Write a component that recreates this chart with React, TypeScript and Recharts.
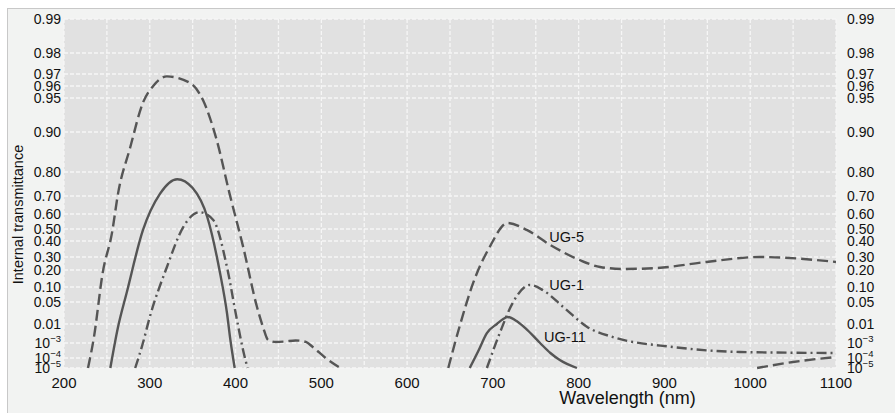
import React from 'react';
import {
  LineChart,
  Line,
  XAxis,
  YAxis,
  CartesianGrid,
  ReferenceDot,
  Label
} from 'recharts';

// Non-linear transmittance axis: tick values and their place on the axis (0 = bottom, 349 = top)
const TICK_VALUES = [0.99, 0.98, 0.97, 0.96, 0.95, 0.9, 0.8, 0.7, 0.6, 0.5, 0.4, 0.3, 0.2, 0.1, 0.05, 0.01, 1e-3, 1e-4, 1e-5];
const TICK_SCALE = [349, 315, 294, 282, 270, 236, 196, 172, 154, 139, 127, 111, 98, 81, 66, 44, 25, 10, 0];
const TICK_LABELS = ['0.99', '0.98', '0.97', '0.96', '0.95', '0.90', '0.80', '0.70', '0.60', '0.50', '0.40', '0.30', '0.20', '0.10', '0.05', '0.01', '10^−3', '10^−4', '10^−5'];

const X_TICKS = [200, 250, 300, 350, 400, 450, 500, 550, 600, 650, 700, 750, 800, 850, 900, 950, 1000, 1050, 1100];

// UG-5 (dashed)
const UG5_UV_NM = [228, 235, 245, 256, 263, 277, 292, 304, 320, 347, 362, 378, 393, 409, 425, 432, 438, 447, 457, 470, 482, 490, 505, 522];
const UG5_UV_T = [1e-5, 0.004, 0.18, 0.47, 0.71, 0.86, 0.943, 0.96, 0.968, 0.9625, 0.947, 0.88, 0.71, 0.36, 0.041, 0.0086, 0.0024, 0.0015, 0.0017, 0.0022, 0.0015, 0.00076, 1e-4, 1e-5];
const UG5_IR_NM = [648, 661, 677, 696, 717, 740, 767, 801, 825, 852, 891, 949, 1011, 1100];
const UG5_IR_T = [1e-5, 0.0086, 0.124, 0.36, 0.54, 0.49, 0.375, 0.277, 0.223, 0.208, 0.215, 0.262, 0.3, 0.262];

// UG-11 (solid)
const UG11_UV_NM = [254, 263, 273, 292, 312, 332, 350, 367, 382, 390, 394, 399];
const UG11_UV_T = [1e-5, 0.0086, 0.08, 0.49, 0.71, 0.77, 0.733, 0.58, 0.18, 0.03, 0.0024, 1e-5];
const UG11_IR_NM = [673, 683, 693, 705, 712, 717, 728, 740, 755, 767, 778, 798];
const UG11_IR_T = [1e-5, 0.00052, 0.0057, 0.0105, 0.019, 0.0227, 0.015, 0.0072, 0.001, 0.0004, 0.000082, 1e-5];
const UG11_FAR_NM = [1008, 1050, 1100];
const UG11_FAR_T = [1e-5, 0.000064, 0.00016];

// UG-1 (dash-dot)
const UG1_UV_NM = [283, 292, 300, 320, 339, 358, 374, 390, 401, 409, 414];
const UG1_UV_T = [1e-5, 0.001, 0.0227, 0.223, 0.513, 0.61, 0.56, 0.223, 0.0227, 0.00052, 1e-5];
const UG1_IR_NM = [693, 708, 723, 743, 758, 782, 810, 840, 910, 988, 1100];
const UG1_IR_T = [1e-5, 0.0057, 0.048, 0.112, 0.09, 0.041, 0.0086, 0.0038, 0.00076, 0.00046, 0.0004];

const SERIES_LABELS = [
  { name: 'UG-5', nm: 786, t: 0.433 },
  { name: 'UG-1', nm: 786, t: 0.112 },
  { name: 'UG-11', nm: 784, t: 0.0038 }
];

const toScale = (v: number): number => {
  if (v >= TICK_VALUES[0]) return TICK_SCALE[0];
  for (let i = 0; i < TICK_VALUES.length - 1; i++) {
    const hi = TICK_VALUES[i];
    const lo = TICK_VALUES[i + 1];
    if (v <= hi && v >= lo) {
      return TICK_SCALE[i + 1] + ((v - lo) / (hi - lo)) * (TICK_SCALE[i] - TICK_SCALE[i + 1]);
    }
  }
  return 0;
};

const build = (nm: number[], t: number[]) => nm.map((w, i) => ({ nm: w, y: toScale(t[i]) }));

const INK = '#555555';
const FONT = '"Liberation Sans", Arial, Helvetica, sans-serif';
const TICK_FS = 14;

const TransTick = (props: any) => {
  const { x, y, payload, side } = props;
  const i = TICK_SCALE.indexOf(payload.value);
  const label = TICK_LABELS[i] ?? '';
  const anchor = side === 'right' ? 'start' : 'end';
  if (label.startsWith('10^')) {
    const exp = label.slice(3);
    return (
      <text x={x} y={y} dy="0.36em" textAnchor={anchor} fontSize={TICK_FS} fontFamily={FONT} fill="#111">
        <tspan>10</tspan>
        <tspan dy={-6} fontSize={9.5}>{exp}</tspan>
      </text>
    );
  }
  return (
    <text x={x} y={y} dy="0.36em" textAnchor={anchor} fontSize={TICK_FS} fontFamily={FONT} fill="#111">
      {label}
    </text>
  );
};

const YTitle = (props: any) => {
  const { viewBox } = props;
  const cx = viewBox.x + 18;
  const cy = viewBox.y + viewBox.height / 2 + 21;
  return (
    <text x={cx} y={cy} transform={`rotate(-90 ${cx} ${cy})`} textAnchor="middle" dominantBaseline="central" fontSize={14.5} fontFamily={FONT} fill="#111">
      Internal transmittance
    </text>
  );
};

const XTitle = (props: any) => {
  const { viewBox } = props;
  const cx = viewBox.x + viewBox.width * 0.73;
  return (
    <text x={cx} y={viewBox.y + 36} textAnchor="middle" fontSize={18} fontFamily={FONT} fill="#111">
      Wavelength (nm)
    </text>
  );
};

const lineProps = {
  type: 'monotone' as const,
  dataKey: 'y',
  stroke: INK,
  strokeWidth: 2.4,
  dot: false,
  activeDot: false,
  isAnimationActive: false
};

const App: React.FC = () => (
  <div style={{ position: 'absolute', left: 0, top: 0, width: 895, height: 413, background: '#fff' }}>
    <div
      style={{
        position: 'absolute',
        left: 7,
        top: 8,
        right: 0,
        bottom: 0,
        background: '#f2f3f2',
        borderTop: '1px solid #c8c8c8',
        borderLeft: '1px solid #c8c8c8'
      }}
    />
    <div style={{ position: 'absolute', left: 0, top: 0 }}>
      <LineChart width={895} height={413} margin={{ top: 19, right: 0, bottom: 0, left: 0 }}>
        <CartesianGrid yAxisId="left" fill="#e1e1e1" stroke="#f6f6f6" strokeDasharray="4 2" strokeWidth={1.3} />
        <XAxis
          dataKey="nm"
          type="number"
          domain={[200, 1100]}
          ticks={X_TICKS}
          interval={0}
          allowDataOverflow
          height={45}
          tickSize={0}
          tickMargin={9}
          axisLine={false}
          tickLine={false}
          tick={{ fontSize: 15, fill: '#111', fontFamily: FONT }}
          tickFormatter={(v: number) => (v % 100 === 0 ? String(v) : '')}
        >
          <Label content={XTitle} />
        </XAxis>
        <YAxis
          yAxisId="left"
          type="number"
          domain={[0, 349]}
          ticks={TICK_SCALE}
          interval={0}
          width={64}
          tickSize={0}
          tickMargin={3}
          axisLine={false}
          tickLine={false}
          tick={<TransTick side="left" />}
        >
          <Label content={YTitle} />
        </YAxis>
        <YAxis
          yAxisId="right"
          orientation="right"
          type="number"
          domain={[0, 349]}
          ticks={TICK_SCALE}
          interval={0}
          width={59}
          tickSize={0}
          tickMargin={11}
          axisLine={false}
          tickLine={false}
          tick={<TransTick side="right" />}
        />
        <Line {...lineProps} yAxisId="left" data={build(UG5_UV_NM, UG5_UV_T)} strokeDasharray="11 5" />
        <Line {...lineProps} yAxisId="left" data={build(UG11_UV_NM, UG11_UV_T)} />
        <Line {...lineProps} yAxisId="left" data={build(UG1_UV_NM, UG1_UV_T)} strokeDasharray="10 4 2 4" />
        <Line {...lineProps} yAxisId="right" data={build(UG5_IR_NM, UG5_IR_T)} strokeDasharray="11 5" />
        <Line {...lineProps} yAxisId="right" data={build(UG11_IR_NM, UG11_IR_T)} />
        <Line {...lineProps} yAxisId="right" data={build(UG11_FAR_NM, UG11_FAR_T)} strokeDasharray="11 5" />
        <Line {...lineProps} yAxisId="right" data={build(UG1_IR_NM, UG1_IR_T)} strokeDasharray="10 4 2 4" />
        {SERIES_LABELS.map((s) => (
          <ReferenceDot
            key={s.name}
            yAxisId="right"
            x={s.nm}
            y={toScale(s.t)}
            r={0}
            fill="none"
            stroke="none"
            label={{ value: s.name, position: 'center', fontSize: 14.5, fill: '#111', fontFamily: FONT }}
          />
        ))}
      </LineChart>
    </div>
  </div>
);

export default App;
